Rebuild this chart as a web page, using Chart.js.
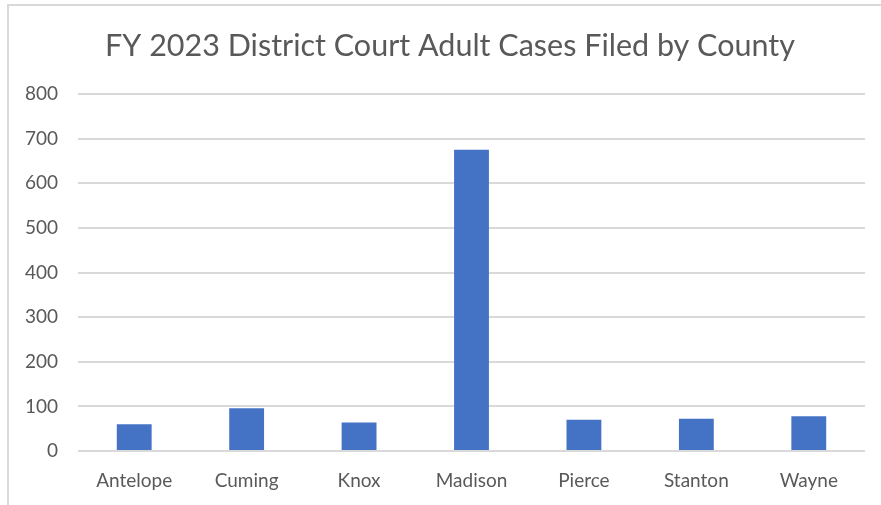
<!DOCTYPE html>
<html>
<head>
<meta charset="utf-8">
<script src="https://cdn.jsdelivr.net/npm/chart.js@4"></script>
<style>
    html, body { margin: 0; padding: 0; background: #fff; }
    #wrap { position: relative; width: 881px; height: 505px; }
    #frame {
        position: absolute; left: 7px; top: 4px; right: 0; bottom: 0;
        border-top: 2px solid #d9d9d9; border-left: 2px solid #d9d9d9;
        pointer-events: none;
    }
    canvas { position: absolute; left: 0; top: 0; }
</style>
</head>
<body>
<div id="wrap">
    <canvas id="countyChart" width="881" height="505"></canvas>
    <div id="frame"></div>
</div>
<script>
// FY 2023 district court adult cases
const counties = ['Antelope', 'Cuming', 'Knox', 'Madison', 'Pierce', 'Stanton', 'Wayne'];
const casesFiled = [60, 96, 64, 675, 70, 72, 78];
const yTicks = [0, 100, 200, 300, 400, 500, 600, 700, 800];
const chartTitle = 'FY 2023 District Court Adult Cases Filed by County';

const textColor = '#595959';
const gridColor = '#d9d9d9';
const fontFamily = 'Lato, "Open Sans", sans-serif';

// title sits a bit right of the plot centre, like the original
const titlePlugin = {
    id: 'offsetTitle',
    afterDraw(chart) {
        const c = chart.ctx;
        c.save();
        c.font = '30.5px ' + fontFamily;
        c.fillStyle = textColor;
        c.textAlign = 'center';
        c.textBaseline = 'middle';
        c.fillText(chartTitle, 450, 46);
        c.restore();
    }
};

const ctx = document.getElementById('countyChart').getContext('2d');
new Chart(ctx, {
    type: 'bar',
    data: {
        labels: counties,
        datasets: [{
            label: 'Cases Filed',
            data: casesFiled,
            backgroundColor: '#4472c4',
            borderWidth: 0,
            barPercentage: 0.31,
            categoryPercentage: 1
        }]
    },
    options: {
        responsive: false,
        animation: false,
        layout: {
            padding: { top: 94, left: 0, right: 16, bottom: 0 }
        },
        scales: {
            x: {
                grid: { display: false, drawTicks: false },
                border: { display: false },
                afterFit: axis => { axis.height = 54; },
                ticks: {
                    color: textColor,
                    font: { family: fontFamily, size: 19 },
                    padding: 18
                }
            },
            y: {
                min: yTicks[0],
                max: yTicks[yTicks.length - 1],
                afterBuildTicks: axis => {
                    axis.ticks = yTicks.map(v => ({ value: v }));
                },
                afterFit: axis => { axis.width = 78; },
                grid: { color: gridColor, lineWidth: 2, drawTicks: false },
                border: { display: false },
                ticks: {
                    color: textColor,
                    font: { family: fontFamily, size: 19 },
                    padding: 20
                }
            }
        },
        plugins: {
            legend: { display: false },
            tooltip: { enabled: false },
            title: { display: false }
        }
    },
    plugins: [titlePlugin]
});
</script>
</body>
</html>
